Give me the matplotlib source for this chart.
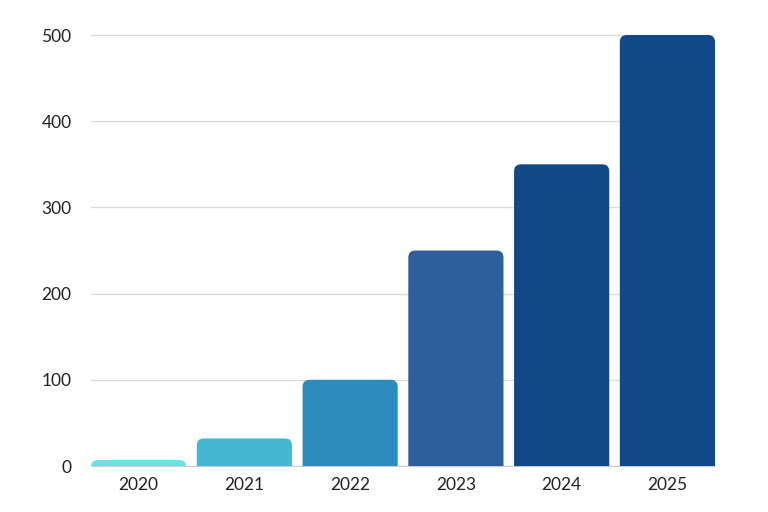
import matplotlib
matplotlib.use("Agg")
import matplotlib.pyplot as plt
from matplotlib.patches import FancyBboxPatch

plt.rcParams["font.family"] = ["Lato", "DejaVu Sans"]

years = ["2020", "2021", "2022", "2023", "2024", "2025"]
values = [7, 32, 100, 250, 350, 500]
colors = ["#6fe0e4", "#43b7d4", "#2e8bbe", "#2f5f9a", "#114887", "#114887"]

fig = plt.figure(figsize=(7.68, 5.12), dpi=100)
ax = fig.add_axes([0.1185, 0.0898, 0.8125, 0.8502])

width = 0.9
bars = ax.bar(range(len(years)), values, width=width, color=colors, alpha=0)
ax.set_xlim(-0.45, len(years) - 0.55)
ax.set_ylim(0, 505)

# rounded top corners: rebuild each bar as a rounded box, bottom corners hidden below 0
bbox = ax.get_window_extent()
x_per_px = (ax.get_xlim()[1] - ax.get_xlim()[0]) / bbox.width
y_per_px = (ax.get_ylim()[1] - ax.get_ylim()[0]) / bbox.height
r_px = 7
for b, c in zip(bars, colors):
    x0, h = b.get_x(), b.get_height()
    ext = r_px * 2 * y_per_px
    p = FancyBboxPatch((x0, -ext), width, h + ext,
                       boxstyle=f"round,pad=0,rounding_size={r_px * x_per_px}",
                       mutation_aspect=y_per_px / x_per_px,
                       facecolor=c, edgecolor="none", zorder=3)
    ax.add_patch(p)

ax.set_xticks(range(len(years)), years)
ax.set_yticks([0, 100, 200, 300, 400, 500])
ax.tick_params(axis="both", length=0, labelsize=12.5, colors="#222222")
ax.tick_params(axis="y", pad=14)
ax.tick_params(axis="x", pad=8)
ax.grid(axis="y", color="#dddddd", lw=1, zorder=0)
for s in ["top", "right", "left"]:
    ax.spines[s].set_visible(False)
ax.spines["bottom"].set_color("#cccccc")
ax.spines["bottom"].set_zorder(2)

fig.savefig("out.png", dpi=100)
